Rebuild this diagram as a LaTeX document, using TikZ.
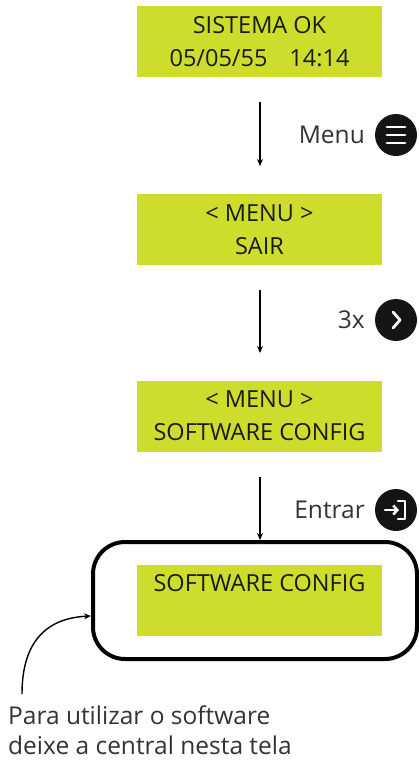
\documentclass[tikz,border=0pt]{standalone}
\usepackage{fontspec}
\setmainfont{Open Sans}
\usetikzlibrary{arrows.meta}
\definecolor{lcdgreen}{HTML}{CEDC2C}
\definecolor{txt}{HTML}{1A1A1A}
\definecolor{lbl}{HTML}{333333}
\tikzset{
  lcd/.style={fill=lcdgreen, draw=none, minimum width=245pt, minimum height=71pt, inner sep=0pt,
              text=txt, font=\fontsize{23.5}{33}\selectfont, align=center},
  flow/.style={-{Stealth[length=7pt,width=6pt]}, line width=1.4pt},
  keylabel/.style={text=lbl, font=\fontsize{24.5}{28}\selectfont, anchor=east, inner sep=0pt},
  keyicon/.style={circle, fill=black!92, minimum size=42pt, inner sep=0pt},
  glyph/.style={white, line width=2.8pt, line cap=round, line join=round},
  note/.style={text=lbl, font=\fontsize{24.5}{30}\selectfont, align=left, inner sep=0pt},
}
\begin{document}
\begin{tikzpicture}[x=1pt,y=-1pt]
\useasboundingbox (0,0) rectangle (419,761);
% LCD screens
\node[lcd] (b1) at (259.5,41.5) {SISTEMA OK\\05/05/55\hspace{22pt}14:14};
\node[lcd] (b2) at (259.5,229.5) {< MENU >\\SAIR};
\node[lcd] (b3) at (259.5,416) {< MENU >\\SOFTWARE CONFIG};
\node[draw, line width=4pt, rounded corners=32pt, minimum width=324pt, minimum height=117pt] (frame) at (255,600.5) {};
\node[lcd] (b4) at (259.5,600.5) {};
\node[text=txt, font=\fontsize{23.5}{33}\selectfont, anchor=base] (b4t) at (259.5,591) {SOFTWARE CONFIG};
% arrows
\coordinate (a1s) at (260,102); \coordinate (a1e) at (260,166);
\coordinate (a2s) at (260,290); \coordinate (a2e) at (260,353);
\coordinate (a3s) at (260,477);
\draw[flow] (a1s) -- (a1e);
\draw[flow] (a2s) -- (a2e);
\draw[flow] (a3s) -- (a3s |- frame.north);
% keys
\node[keyicon] (k1) at (396,135) {};
\draw[glyph] ([xshift=-9pt,yshift=8pt]k1.center) -- ++(18,0)
             ([xshift=-9pt]k1.center) -- ++(18,0)
             ([xshift=-9pt,yshift=-8pt]k1.center) -- ++(18,0);
\node[keylabel] (l1) at (365,135) {Menu};
\node[keyicon] (k2) at (396,320) {};
\draw[glyph] ([xshift=-3pt,yshift=8pt]k2.center) -- ++(7,8) -- ++(-7,8);
\node[keylabel] (l2) at (365,320) {3x};
\node[keyicon] (k3) at (396,510) {};
\draw[glyph, line width=2.6pt] ([xshift=2pt,yshift=9pt]k3.center) -- ++(7,0) -- ++(0,18) -- ++(-7,0);
\draw[white, line width=2.6pt, line cap=round, -{Straight Barb[length=4pt,width=9pt]}] ([xshift=-11pt]k3.center) -- ([xshift=3pt]k3.center);
\node[keylabel] (l3) at (365,510) {Entrar};
% note
\node[note, anchor=base west] (n1) at (8,724) {Para utilizar o software};
\node[note, anchor=base west] (n2) at (8,754) {deixe a central nesta tela};
\coordinate (c0) at (22,694);
\draw[line width=1.4pt, -{Stealth[length=7pt,width=6pt]}] (c0) .. controls (22,640) and (48,618) .. (frame.west |- 0,616);
\end{tikzpicture}
\end{document}
